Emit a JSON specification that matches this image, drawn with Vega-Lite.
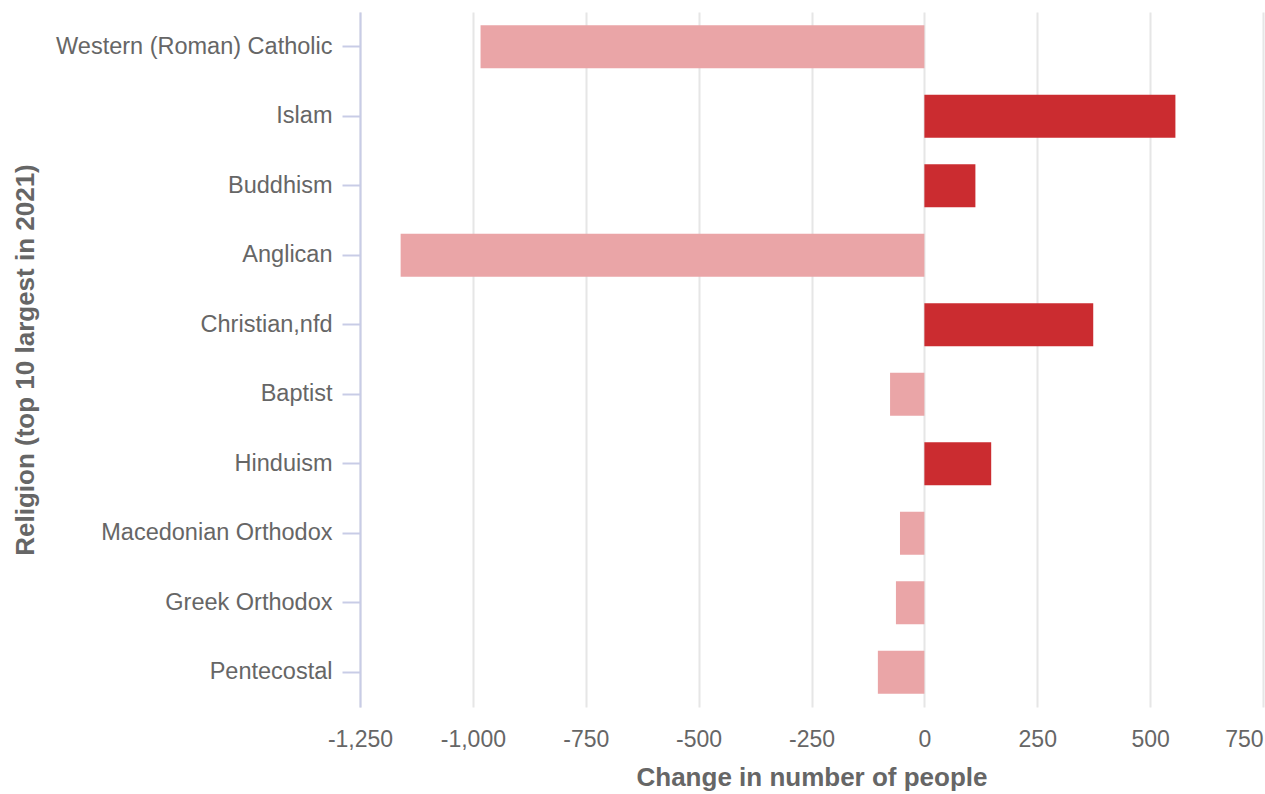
{
  "$schema": "https://vega.github.io/schema/vega-lite/v6.json",
  "width": 903,
  "height": 695,
  "autosize": {"type": "none"},
  "padding": {"left": 360, "top": 12, "right": 2, "bottom": 87},
  "background": "white",
  "config": {
    "view": {"stroke": null},
    "font": "Liberation Sans",
    "axis": {"labelFont": "Liberation Sans", "titleFont": "Liberation Sans", "labelColor": "#666666", "titleColor": "#666666"}
  },
  "data": {
    "values": [
      {"religion": "Western (Roman) Catholic", "change": -983},
      {"religion": "Islam", "change": 556},
      {"religion": "Buddhism", "change": 113},
      {"religion": "Anglican", "change": -1160},
      {"religion": "Christian,nfd", "change": 374},
      {"religion": "Baptist", "change": -76},
      {"religion": "Hinduism", "change": 148},
      {"religion": "Macedonian Orthodox", "change": -54},
      {"religion": "Greek Orthodox", "change": -63},
      {"religion": "Pentecostal", "change": -103}
    ]
  },
  "mark": {"type": "bar"},
  "encoding": {
    "y": {
      "field": "religion",
      "type": "nominal",
      "sort": null,
      "scale": {"paddingInner": 0.38, "paddingOuter": 0.19},
      "axis": {
        "title": "Religion (top 10 largest in 2021)",
        "titleFontSize": 26,
        "titleFontWeight": "bold",
        "titleX": -327,
        "titleY": 347.5,
        "titleAngle": 270,
        "titleAlign": "center",
        "titleBaseline": "alphabetic",
        "labelFontSize": 23.5,
        "labelPadding": 10,
        "labelLimit": 500,
        "tickSize": 18,
        "tickColor": "#c8cce6",
        "domainColor": "#c8cce6",
        "domainWidth": 2,
        "tickWidth": 2,
        "grid": false
      }
    },
    "x": {
      "field": "change",
      "type": "quantitative",
      "scale": {"domain": [-1250, 750], "nice": false, "zero": false},
      "axis": {
        "title": "Change in number of people",
        "titleFontSize": 26,
        "titleFontWeight": "bold",
        "titlePadding": 13,
        "labelFontSize": 23,
        "labelPadding": 21,
        "ticks": false,
        "domain": false,
        "grid": true,
        "gridColor": "#e6e6e6",
        "gridWidth": 2,
        "values": [-1250, -1000, -750, -500, -250, 0, 250, 500, 750],
        "labelExpr": "replace(format(datum.value, ','), '\u2212', '-')",
        "labelAlign": {"expr": "datum.value == 750 ? 'right' : 'center'"},
        "labelFlush": false
      }
    },
    "color": {
      "condition": {"test": "datum.change > 0", "value": "#cb2c30"},
      "value": "#eaa5a7"
    }
  }
}
